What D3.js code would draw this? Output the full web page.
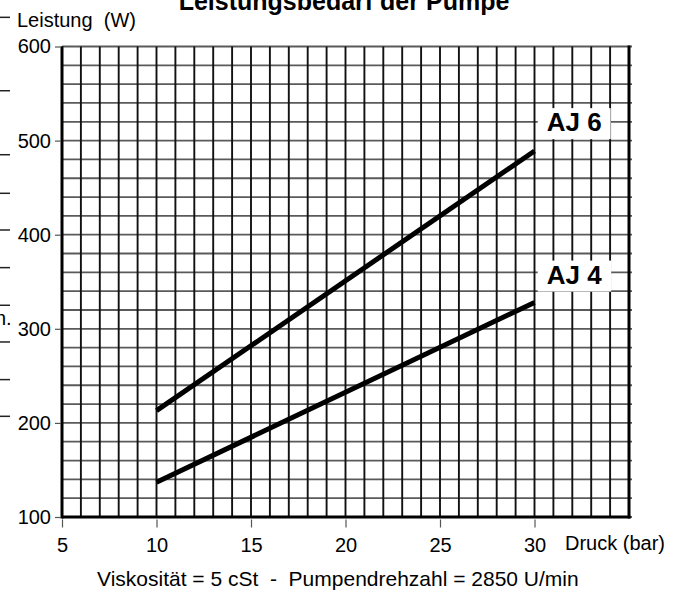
<!DOCTYPE html>
<html>
<head>
<meta charset="utf-8">
<script src="https://cdn.jsdelivr.net/npm/d3@7"></script>
<style>
  body { margin: 0; background: #fff; }
  svg { display: block; font-family: "Liberation Sans", Arial, sans-serif; }
  text { white-space: pre; }
</style>
</head>
<body>
<svg class="chart"></svg>
<script>
var pressure = [10, 30];
var aj6 = [213, 489];
var aj4 = [137, 328];
var seriesNames = ["AJ 6", "AJ 4"];
var labelPos = [[32.1, 520], [32.1, 358]];
var xTicks = [5, 10, 15, 20, 25, 30];
var yTicks = [100, 200, 300, 400, 500, 600];
var edgeTicks = [631, 553, 485, 444, 405, 365, 325, 286, 246, 207];

var width = 680, height = 592;
var margin = {top: 46.5, right: 51, bottom: 75, left: 62};

var svg = d3.select(".chart")
    .attr("width", width)
    .attr("height", height);

var x = d3.scaleLinear().domain([5, 35]).range([margin.left, width - margin.right]);
var y = d3.scaleLinear().domain([100, 600]).range([height - margin.bottom, margin.top]);

var x0 = x.range()[0], x1 = x.range()[1];
var y0 = y.range()[0], y1 = y.range()[1];

// grid
svg.append("g").selectAll("line")
    .data(y.ticks(25))
  .enter().append("line")
    .attr("x1", x0).attr("x2", x1 + 3)
    .attr("y1", function(d) { return y(d); })
    .attr("y2", function(d) { return y(d); })
    .attr("stroke", "#5a5a5a")
    .attr("stroke-width", 1.8);

svg.append("g").selectAll("line")
    .data(x.ticks(30))
  .enter().append("line")
    .attr("x1", function(d) { return x(d); })
    .attr("x2", function(d) { return x(d); })
    .attr("y1", y1).attr("y2", y0)
    .attr("stroke", "#111")
    .attr("stroke-width", 1.9);

// frame
svg.append("line").attr("x1", x0).attr("x2", x0).attr("y1", y1).attr("y2", y0 + 1.5)
    .attr("stroke", "#000").attr("stroke-width", 3);
svg.append("line").attr("x1", x1).attr("x2", x1).attr("y1", y1 - 1).attr("y2", y0 + 1.5)
    .attr("stroke", "#000").attr("stroke-width", 3);
svg.append("line").attr("x1", x0).attr("x2", x1 + 1.5).attr("y1", y0).attr("y2", y0)
    .attr("stroke", "#000").attr("stroke-width", 3);

// series labels with white boxes
var series = [aj6, aj4];
seriesNames.forEach(function(name, i) {
  var g = svg.append("g");
  var t = g.append("text")
      .attr("x", x(labelPos[i][0]))
      .attr("y", y(labelPos[i][1]))
      .attr("dy", "0.36em")
      .attr("text-anchor", "middle")
      .style("font-size", "26px")
      .style("font-weight", "bold")
      .text(name);
  var b = t.node().getBBox();
  g.insert("rect", "text")
      .attr("x", b.x - 9).attr("y", b.y + 1)
      .attr("width", b.width + 18).attr("height", b.height + 1)
      .attr("fill", "#fff");
});

// data lines
var line = d3.line()
    .x(function(d) { return x(d[0]); })
    .y(function(d) { return y(d[1]); });

series.forEach(function(s) {
  svg.append("path")
      .datum(pressure.map(function(p, j) { return [p, s[j]]; }))
      .attr("d", line)
      .attr("fill", "none")
      .attr("stroke", "#000")
      .attr("stroke-width", 5)
      .attr("stroke-linecap", "butt");
});

// axes
var yAxis = svg.append("g")
    .attr("transform", "translate(" + (x0 - 1) + ",0)")
    .call(d3.axisLeft(y).tickValues(yTicks).tickSize(6).tickPadding(4));
var xAxis = svg.append("g")
    .attr("transform", "translate(0," + (y0 + 2.5) + ")")
    .call(d3.axisBottom(x).tickValues(xTicks).tickSize(8).tickPadding(10));

[xAxis, yAxis].forEach(function(a) {
  a.select(".domain").remove();
  a.selectAll(".tick line").attr("stroke", "#555").attr("stroke-width", 1.2);
  a.selectAll(".tick text")
      .attr("fill", "#000")
      .style("font-size", "20px")
      .style("font-family", "Liberation Sans, Arial, sans-serif");
});

// titles
svg.append("text")
    .attr("x", 344).attr("y", 10)
    .attr("text-anchor", "middle")
    .style("font-size", "25px")
    .style("font-weight", "bold")
    .text("Leistungsbedarf der Pumpe");

svg.append("text")
    .attr("x", 17).attr("y", 27)
    .style("font-size", "20px")
    .text("Leistung  (W)");

svg.append("text")
    .attr("x", 565).attr("y", 550)
    .style("font-size", "20px")
    .text("Druck (bar)");

svg.append("text")
    .attr("x", 97).attr("y", 586)
    .style("font-size", "21px")
    .text("Viskosität = 5 cSt  -  Pumpendrehzahl = 2850 U/min");

// remnants of the neighbouring chart at the left edge
svg.append("g").selectAll("line")
    .data(edgeTicks)
  .enter().append("line")
    .attr("x1", 0).attr("x2", 10)
    .attr("y1", function(d) { return y(d); })
    .attr("y2", function(d) { return y(d); })
    .attr("stroke", "#222")
    .attr("stroke-width", 1.5);

svg.append("text")
    .attr("x", -5).attr("y", 325)
    .style("font-size", "20px")
    .text("n.");
</script>
</body>
</html>
